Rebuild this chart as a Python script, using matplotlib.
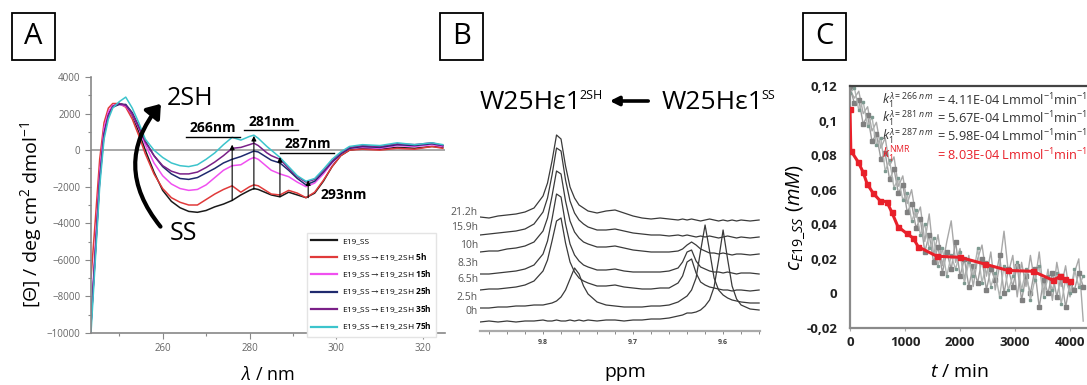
import numpy as np
import matplotlib
matplotlib.use("Agg")
import matplotlib.pyplot as plt
from matplotlib.patches import Rectangle, FancyArrowPatch
from matplotlib.ticker import FixedLocator, FuncFormatter, MultipleLocator

plt.rcParams['font.family'] = ['Open Sans', 'DejaVu Sans']
plt.rcParams['mathtext.fontset'] = 'custom'
plt.rcParams['mathtext.rm'] = 'Open Sans'
plt.rcParams['mathtext.it'] = 'Open Sans:italic'
plt.rcParams['mathtext.bf'] = 'Open Sans:bold'
plt.rcParams['mathtext.fallback'] = 'stixsans'

W, H = 1087, 385

# ---------------- panel A : CD spectra ----------------
cd_wl = [243.5, 244.5, 245.5, 246.5, 247.5, 248.5, 250, 251.5, 253, 254.5, 256, 258, 260, 262,
         264, 266, 268, 270, 272, 274, 276, 278, 280, 281, 282, 284, 285, 287, 289, 291, 293,
         295, 297, 299, 301, 303, 306, 310, 314, 318, 322, 324.5]
cd_ss = [-9500, -5500, -1500, 1000, 2000, 2400, 2550, 2450, 1900, 1000, 0, -1200, -2200, -2800,
         -3150, -3350, -3400, -3300, -3100, -2950, -2750, -2450, -2200, -2100, -2150, -2350, -2450,
         -2550, -2300, -2450, -2600, -2350, -1700, -900, -300, 0, 100, 50, 150, 100, 200, 150]
cd_5h = [-7000, -3800, -500, 1500, 2300, 2550, 2550, 2350, 1700, 800, -200, -1300, -2100, -2600,
         -2850, -3000, -3000, -2700, -2400, -2150, -1950, -2300, -2000, -1900, -1950, -2250, -2400,
         -2450, -2200, -2350, -2600, -2300, -1650, -900, -300, 0, 50, 0, 100, 50, 200, 100]
cd_15h = [-9200, -5200, -1200, 1200, 2100, 2450, 2500, 2400, 1950, 1200, 300, -700, -1400, -1850,
          -2100, -2200, -2150, -1900, -1500, -1100, -850, -800, -500, -400, -500, -900, -1100,
          -1300, -1450, -1750, -2000, -1800, -1300, -700, -200, 100, 150, 100, 250, 200, 300, 200]
cd_25h = [-9500, -5600, -1600, 900, 1900, 2350, 2500, 2500, 2050, 1300, 500, -300, -900, -1300,
          -1550, -1600, -1500, -1250, -1000, -700, -500, -350, -150, -50, -100, -400, -550,
          -700, -1100, -1550, -1900, -1700, -1200, -650, -200, 100, 200, 150, 300, 250, 350, 250]
cd_35h = [-9600, -5700, -1700, 800, 1900, 2400, 2550, 2450, 2000, 1250, 450, -300, -850, -1150,
          -1300, -1300, -1200, -950, -650, -300, 100, 150, 300, 380, 250, -150, -300,
          -500, -1000, -1450, -1750, -1600, -1150, -600, -150, 150, 250, 200, 350, 300, 400, 250]
cd_75h = [-10000, -6000, -2000, 600, 1700, 2300, 2650, 2900, 2300, 1500, 600, 0, -400, -700,
          -850, -900, -800, -500, -150, 300, 700, 550, 750, 820, 650, 200, 0,
          -400, -900, -1400, -1700, -1550, -1050, -500, -100, 200, 300, 250, 400, 300, 400, 300]
cd_labels = ["E19_SS",
             "E19_SS$\\rightarrow$E19_2SH $\\mathbf{5h}$",
             "E19_SS$\\rightarrow$E19_2SH $\\mathbf{15h}$",
             "E19_SS$\\rightarrow$E19_2SH $\\mathbf{25h}$",
             "E19_SS$\\rightarrow$E19_2SH $\\mathbf{35h}$",
             "E19_SS$\\rightarrow$E19_2SH $\\mathbf{75h}$"]
cd_colors = ["#1a1a1a", "#e03a3a", "#f050f0", "#1f2a6e", "#7a2088", "#3cc4cc"]

# wavelength markers: position, arrow start / end
mark_nm = [276, 281, 287, 293.5]
mark_from = [-2750, -2150, -2550, -2600]
mark_to = [300, 780, -380, -1650]

# ---------------- panel B : NMR stack ----------------
nmr_ppm = [9.87, 9.86, 9.85, 9.84, 9.83, 9.82, 9.81, 9.80, 9.795, 9.79, 9.785, 9.78, 9.775, 9.77,
           9.765, 9.76, 9.755, 9.75, 9.74, 9.73, 9.72, 9.71, 9.70, 9.69, 9.68, 9.67, 9.66, 9.65,
           9.645, 9.64, 9.635, 9.63, 9.625, 9.62, 9.615, 9.61, 9.605, 9.60, 9.595, 9.59, 9.585,
           9.58, 9.57, 9.56]
nmr_0h = [9, 10, 9, 10, 9, 10, 10, 11, 10, 10, 11, 10, 10, 11, 10, 11, 10, 11, 10, 11, 11, 10,
          11, 11, 12, 12, 13, 15, 16, 18, 18, 19, 21, 25, 31, 44, 71, 101, 72, 45, 32, 26, 22, 21]
nmr_2h = [23, 23, 24, 24, 25, 25, 26, 26, 27, 28, 30, 34, 41, 52, 63, 57, 45, 37, 29, 26, 25, 24,
          24, 24, 25, 25, 26, 29, 32, 35, 41, 53, 80, 106, 80, 53, 41, 36, 33, 31, 30, 29, 28, 28]
nmr_6h = [41, 42, 42, 43, 44, 46, 50, 60, 71, 90, 110, 113, 88, 69, 59, 53, 50, 48, 45, 45, 46, 44,
          43, 42, 42, 43, 43, 48, 55, 69, 72, 58, 49, 46, 44, 43, 42, 41, 41, 40, 41, 41, 40, 41]
nmr_8h = [57, 57, 58, 59, 60, 62, 66, 77, 90, 112, 137, 134, 107, 87, 76, 70, 66, 64, 61, 61, 62,
          60, 59, 59, 59, 59, 60, 63, 69, 79, 81, 70, 64, 62, 60, 59, 59, 58, 59, 58, 57, 58, 58, 57]
nmr_10h = [79, 80, 80, 82, 83, 85, 89, 100, 113, 135, 160, 157, 130, 110, 99, 93, 89, 87, 84, 84,
           85, 83, 81, 80, 79, 79, 79, 80, 82, 86, 89, 86, 82, 80, 78, 78, 77, 78, 77, 76, 77, 77,
           76, 77]
nmr_16h = [96, 97, 98, 99, 100, 102, 107, 119, 133, 156, 183, 180, 151, 130, 118, 111, 107, 104,
           101, 101, 102, 100, 98, 97, 96, 96, 95, 96, 95, 96, 95, 94, 95, 94, 95, 94, 93, 94, 95,
           94, 93, 94, 93, 94]
nmr_21h = [114, 113, 115, 116, 117, 119, 123, 135, 148, 170, 196, 192, 165, 144, 133, 126, 123,
           120, 118, 120, 121, 118, 115, 113, 112, 113, 112, 111, 112, 111, 112, 111, 110, 111,
           112, 111, 110, 111, 110, 111, 110, 111, 110, 111]
nmr_series = [nmr_0h, nmr_2h, nmr_6h, nmr_8h, nmr_10h, nmr_16h, nmr_21h]
nmr_labels = ["0h", "2.5h", "6.5h", "8.3h", "10h", "15.9h", "21.2h"]
nmr_label_y = [312, 297, 280, 263, 246, 228, 213]

# ---------------- panel C : kinetics ----------------
t_uv = [0, 80, 160, 240, 320, 400, 480, 560, 640, 720, 800, 880, 960, 1040, 1120, 1200, 1280,
        1360, 1440, 1520, 1600, 1680, 1760, 1840, 1920, 2000, 2080, 2160, 2240, 2320, 2400, 2480,
        2560, 2640, 2720, 2800, 2880, 2960, 3040, 3120, 3200, 3280, 3360, 3440, 3520, 3600, 3680,
        3760, 3840, 3920, 4000, 4080, 4160, 4240]
c_266 = [0.118, 0.113, 0.117, 0.104, 0.108, 0.094, 0.099, 0.084, 0.090, 0.074, 0.079, 0.062,
         0.068, 0.052, 0.060, 0.044, 0.050, 0.030, 0.046, 0.022, 0.034, 0.016, 0.030, 0.042,
         0.018, 0.026, 0.008, 0.022, 0.004, 0.020, 0.028, 0.010, 0.024, 0.002, 0.016, 0.036,
         0.012, 0.022, -0.002, 0.018, 0.004, 0.022, 0.006, 0.024, 0.000, 0.014, -0.004, 0.018,
         0.004, 0.016, -0.002, 0.012, 0.020, -0.016]
c_281 = [0.119, 0.110, 0.112, 0.098, 0.103, 0.088, 0.092, 0.078, 0.081, 0.066, 0.072, 0.058,
         0.063, 0.047, 0.052, 0.038, 0.043, 0.024, 0.034, 0.018, 0.027, 0.012, 0.024, 0.014,
         0.030, 0.010, 0.020, 0.004, 0.016, 0.006, 0.020, 0.002, 0.014, 0.008, 0.022, 0.000,
         0.014, 0.004, 0.016, -0.004, 0.010, 0.000, 0.014, -0.008, 0.008, 0.000, 0.012, -0.002,
         0.010, -0.008, 0.006, 0.002, 0.012, 0.004]
c_287 = [0.116, 0.119, 0.106, 0.111, 0.097, 0.102, 0.086, 0.090, 0.071, 0.077, 0.061, 0.067,
         0.054, 0.058, 0.042, 0.048, 0.034, 0.040, 0.026, 0.032, 0.016, 0.026, 0.010, 0.022,
         0.014, 0.024, 0.006, 0.018, 0.010, 0.026, 0.006, 0.018, 0.004, 0.012, -0.002, 0.016,
         0.002, 0.010, 0.018, 0.002, 0.014, -0.004, 0.008, 0.016, -0.002, 0.010, 0.002, 0.012,
         -0.006, 0.008, 0.000, 0.014, 0.004, 0.010]
t_nmr = [0, 15, 150, 240, 310, 420, 545, 670, 760, 870, 1030, 1150, 1240, 1580, 2000, 2450,
         2870, 3330, 3690, 3820, 3900, 4000]
c_nmr = [0.1067, 0.0826, 0.076, 0.070, 0.0635, 0.058, 0.0537, 0.053, 0.047, 0.0387, 0.0347,
         0.032, 0.027, 0.0215, 0.0209, 0.017, 0.0133, 0.0128, 0.0076, 0.0098, 0.0085, 0.007]
k_names = [r"$k_1^{\lambda=266\ nm}$", r"$k_1^{\lambda=281\ nm}$", r"$k_1^{\lambda=287\ nm}$",
           r"$k_1^{\mathrm{NMR}}$"]
k_values = ["4.11E-04", "5.67E-04", "5.98E-04", "8.03E-04"]
c_yticks = [-0.02, 0, 0.02, 0.04, 0.06, 0.08, 0.1, 0.12]


def rect(l, t, r, b):
    return [l / W, 1 - b / H, (r - l) / W, (b - t) / H]


def fx(x):
    return x / W


def fy(y):
    return 1 - y / H


fig = plt.figure(figsize=(W / 100, H / 100), dpi=100)
renderer = fig.canvas.get_renderer()

# panel letters
for letter, x0 in zip(["A", "B", "C"], [12, 440, 803]):
    fig.patches.append(Rectangle((fx(x0), fy(60)), 43 / W, 47 / H, transform=fig.transFigure,
                                 fill=False, ec='black', lw=1.3))
    fig.text(fx(x0 + 21.5), fy(36.5), letter, fontsize=21, ha='center', va='center')

# ---- A ----
axA = fig.add_axes(rect(91, 77, 445, 333))
axA.axhline(0, color='#999999', lw=1.2, zorder=1)
for vals, lab, col in zip([cd_ss, cd_5h, cd_15h, cd_25h, cd_35h, cd_75h], cd_labels, cd_colors):
    axA.plot(cd_wl, vals, color=col, lw=1.1, label=lab, zorder=2)
axA.set_xlim(243.5, 325)
axA.set_ylim(-10000, 4000)
axA.xaxis.set_major_locator(FixedLocator([260, 280, 300, 320]))
axA.xaxis.set_minor_locator(MultipleLocator(10))
axA.yaxis.set_major_locator(MultipleLocator(2000))
axA.yaxis.set_minor_locator(MultipleLocator(1000))
for s in ['top', 'right']:
    axA.spines[s].set_visible(False)
for s in ['left', 'bottom']:
    axA.spines[s].set_color('#888888')
    axA.spines[s].set_linewidth(1.2)
axA.tick_params(which='both', colors='#888888', labelcolor='#666666', labelsize=7, width=0.8)
axA.tick_params(which='major', length=4)
axA.tick_params(which='minor', length=2.5)
axA.set_xlabel(r"$\lambda$ / nm", fontsize=13, labelpad=8)
fig.text(fx(31), fy(215), "[Θ] / deg cm$^2$ dmol$^{-1}$", rotation=90, fontsize=14,
         ha='center', va='center')

for nm, y0, y1 in zip(mark_nm, mark_from, mark_to):
    axA.annotate('', xy=(nm, y1), xytext=(nm, y0),
                 arrowprops=dict(arrowstyle='-|>', lw=0.8, color='black', mutation_scale=7,
                                 shrinkA=0, shrinkB=0), zorder=4)
for txt, xc, yc, ul in [("266nm", 271.6, 1230, 700), ("281nm", 285.0, 1520, 1080),
                        ("287nm", 293.3, 350, -180)]:
    axA.text(xc, yc, txt, fontsize=10, fontweight='bold', ha='center', va='center', zorder=5)
    axA.plot([xc - 6.2, xc + 6.2], [ul, ul], color='black', lw=1.0, zorder=5)
axA.text(296.3, -2470, "293nm", fontsize=10, fontweight='bold', ha='left', va='center')
axA.text(266.4, 2850, "2SH", fontsize=18, ha='center', va='center')
axA.text(264.8, -4550, "SS", fontsize=18, ha='center', va='center')
arc = FancyArrowPatch((259.9, -4300), (260.0, 2650), connectionstyle="arc3,rad=-0.42",
                      arrowstyle="-|>,head_length=0.55,head_width=0.4", mutation_scale=14,
                      lw=3.0, color='black', zorder=6, clip_on=False)
axA.add_patch(arc)

axA.legend(loc='upper left', bbox_to_anchor=(fx(303), fy(229)), bbox_transform=fig.transFigure,
           fontsize=6, handlelength=3.1, handletextpad=0.6, labelspacing=0.72, borderpad=0.5,
           frameon=True, fancybox=False, edgecolor='#e4e4e4', framealpha=1)
for line in axA.get_legend().get_lines():
    line.set_linewidth(1.6)

# ---- B ----
axB = fig.add_axes(rect(480, 125, 760, 331))
for vals in nmr_series:
    axB.plot(nmr_ppm, vals, color='#3a3a3a', lw=0.9)
axB.set_xlim(9.87, 9.559)
axB.set_ylim(0, 206)
axB.set_yticks([])
for s in ['top', 'right', 'left']:
    axB.spines[s].set_visible(False)
axB.spines['bottom'].set_color('#aaaaaa')
axB.spines['bottom'].set_linewidth(1.6)
axB.xaxis.set_major_locator(FixedLocator([9.8, 9.7, 9.6]))
axB.xaxis.set_minor_locator(FixedLocator([9.86, 9.84, 9.82, 9.78, 9.76, 9.74, 9.72, 9.68, 9.66,
                                          9.64, 9.62, 9.58, 9.56]))
axB.xaxis.set_major_formatter(FuncFormatter(lambda v, p: "%.1f" % v))
axB.tick_params(which='both', colors='#888888', labelcolor='#444444', labelsize=5, length=2.5,
                width=0.7, pad=3)
for lab in axB.get_xticklabels():
    lab.set_fontweight('bold')
for lab, yy in zip(nmr_labels, nmr_label_y):
    fig.text(fx(478), fy(yy), lab, fontsize=7.5, color='#555555', ha='right', va='center')
fig.text(fx(625), fy(372), "ppm", fontsize=14, ha='center', va='center')

for x0, sup in [(480, "2SH"), (662, "SS")]:
    t = fig.text(fx(x0), fy(109), "W25Hε1", fontsize=19, ha='left', va='baseline')
    bb = t.get_window_extent(renderer)
    fig.text((bb.x1 - 2) / W, fy(99), sup, fontsize=9, ha='left', va='baseline')
fig.patches.append(FancyArrowPatch((fx(651), fy(101)), (fx(607), fy(101)),
                                   transform=fig.transFigure, arrowstyle='-|>', lw=2.6,
                                   mutation_scale=13, color='black'))

# ---- C ----
axC = fig.add_axes(rect(850, 86, 1087, 328))
axC.plot(t_uv, c_266, color='#a8a8a8', lw=1.0, zorder=2)
axC.plot(t_uv, c_281, color='#9c9c9c', lw=1.0, marker='s', ms=2.2, mfc='#808080', mec='#808080',
         zorder=2)
axC.plot(t_uv, c_287, color='#b0b4b2', lw=1.0, marker='s', ms=2.0, mfc='#7d9990', mec='#7d9990',
         zorder=2)
axC.plot(t_nmr, c_nmr, color='#e8202a', lw=2.2, marker='s', ms=3.6, zorder=3)
axC.set_xlim(0, 4309)
axC.set_ylim(-0.02, 0.12)
axC.yaxis.set_major_locator(FixedLocator(c_yticks))
axC.yaxis.set_major_formatter(FuncFormatter(lambda v, p: ("%g" % v).replace('.', ',')))
axC.xaxis.set_major_locator(FixedLocator([0, 1000, 2000, 3000, 4000]))
axC.spines['right'].set_visible(False)
axC.spines['top'].set_color('#444444')
axC.spines['top'].set_linewidth(1.6)
for s in ['left', 'bottom']:
    axC.spines[s].set_color('#8a8a8a')
    axC.spines[s].set_linewidth(1.6)
axC.tick_params(axis='both', colors='#aaaaaa', labelcolor='#222222', labelsize=9.5, length=2,
                width=0.8)
axC.tick_params(axis='y', pad=9, length=0)
for lab in axC.get_xticklabels() + axC.get_yticklabels():
    lab.set_fontweight('bold')
fig.text(fx(796), fy(218), r"$c_{E19\_SS}\ (mM)$", rotation=90, fontsize=14.5, ha='center',
         va='center')
fig.text(fx(960), fy(372), r"$t$ / min", fontsize=14, ha='center', va='center')
for i, (kn, kv) in enumerate(zip(k_names, k_values)):
    col = '#e8202a' if i == 3 else '#333333'
    yy = [100, 118, 136, 155][i]
    fig.text(fx(882), fy(yy), kn, fontsize=9, color=col, ha='left', va='center')
    fig.text(fx(937), fy(yy), "= " + kv + " Lmmol$^{-1}$min$^{-1}$", fontsize=9.2, color=col,
             ha='left', va='center')

fig.savefig("out.png", dpi=100)
